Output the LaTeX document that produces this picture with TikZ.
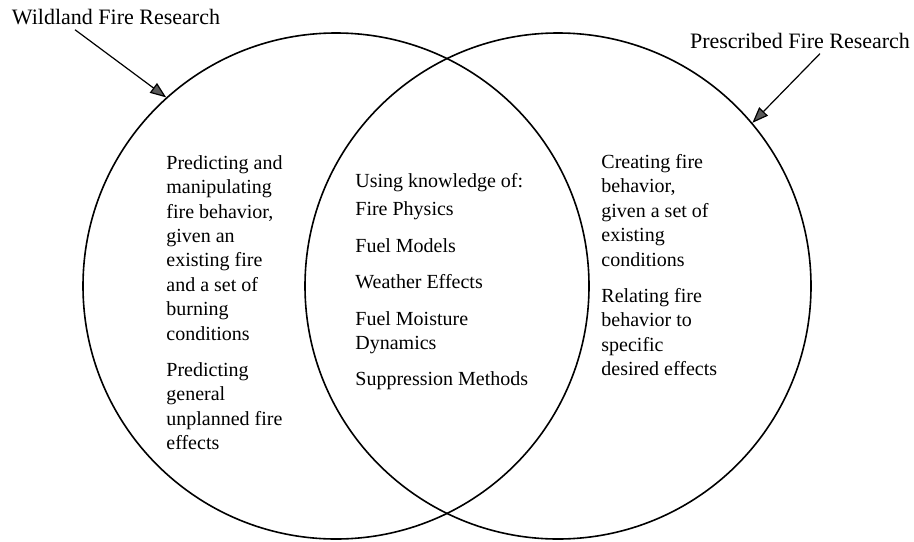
\documentclass[tikz,border=0pt]{standalone}
\usepackage{fontspec}
\setmainfont{Liberation Serif}
\usetikzlibrary{arrows.meta}

\begin{document}
\begin{tikzpicture}[x=0.5pt,y=-0.5pt,
  venn/.style={circle,draw,line width=0.8pt,minimum size=253pt,inner sep=0pt},
  title/.style={font=\fontsize{11}{13}\selectfont,inner sep=2.5pt,anchor=base},
  body/.style={font=\fontsize{10}{12.2}\selectfont,align=left,inner sep=0pt,anchor=north west},
  pointer/.style={-{Triangle[length=8pt,width=6pt,fill=black!65]},line width=0.6pt}]
  \useasboundingbox (0,0) rectangle (914,541);

  % Research circles
  \node[venn] (wild) at (336,286) {};
  \node[venn] (presc) at (558,286) {};

  % Titles
  \node[title] (wildlbl) at (116,24) {Wildland Fire Research};
  \node[title] (presclbl) at (800,48) {Prescribed Fire Research};

  % Arrows to circles
  \draw[pointer] ([xshift=-20.5pt]wildlbl.south) -- (wild.132.5);
  \draw[pointer] ([xshift=10pt]presclbl.south) -- (presc.40);

  % Wildland only
  \node[body] (wildtxt) at (166,155) {Predicting and\\manipulating\\fire behavior,\\given an\\existing fire\\and a set of\\burning\\conditions\\[6pt]
    Predicting\\general\\unplanned fire\\effects};

  % Shared knowledge
  \node[body] (sharedtxt) at (355,173) {Using knowledge of:\\[2pt]Fire Physics\\[6pt]Fuel Models\\[6pt]Weather Effects\\[6pt]
    Fuel Moisture\\Dynamics\\[6pt]Suppression Methods};

  % Prescribed only
  \node[body] (presctxt) at (601,154) {Creating fire\\behavior,\\given a set of\\existing\\conditions\\[6pt]
    Relating fire\\behavior to\\specific\\desired effects};
\end{tikzpicture}
\end{document}
